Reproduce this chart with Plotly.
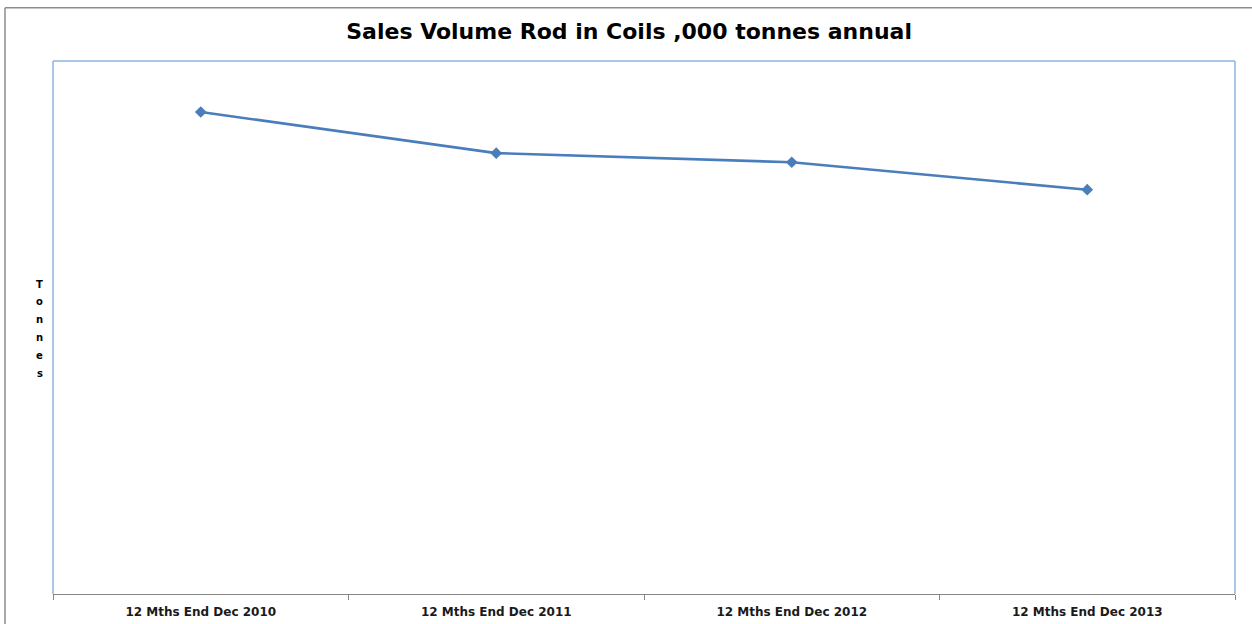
import plotly.graph_objects as go

categories = ["12 Mths End Dec 2010", "12 Mths End Dec 2011", "12 Mths End Dec 2012", "12 Mths End Dec 2013"]
sales_volume = [633, 579, 567, 531]
y_range = [0, 700]

title_text = "Sales Volume Rod in Coils ,000 tonnes annual"
y_title = "Tonnes"

fig = go.Figure()
fig.add_trace(go.Scatter(
    x=categories, y=sales_volume, mode="lines+markers",
    line=dict(color="#4A7EBB", width=2.6),
    marker=dict(symbol="diamond", size=9, color="#4A7EBB"),
    showlegend=False,
))

blue = "#8EB4E3"
for x0, y0, x1, y1 in [(0, 0, 0, 1), (0, 1, 1, 1), (1, 0, 1, 1)]:
    fig.add_shape(type="line", xref="paper", yref="paper", x0=x0, y0=y0, x1=x1, y1=y1,
                  line=dict(color=blue, width=1.5), layer="above")
fig.add_shape(type="line", xref="paper", yref="paper", x0=-0.0406, y0=1.1, x1=1.02, y1=1.1,
              line=dict(color="#8C8C8C", width=1.5))
fig.add_shape(type="line", xref="paper", yref="paper", x0=-0.0406, y0=-0.06, x1=-0.0406, y1=1.1,
              line=dict(color="#8C8C8C", width=1.5))

plot_h = 533.0
for i, ch in enumerate(y_title):
    fig.add_annotation(
        text="<b>" + ch + "</b>", xref="paper", yref="paper",
        x=-0.0110, y=(594 - 284 - i * 17.8) / plot_h, xanchor="center", yanchor="middle",
        showarrow=False, font=dict(family="DejaVu Sans", size=10, color="#000000"),
    )

fig.update_layout(
    width=1252, height=624,
    margin=dict(l=53, r=17, t=61, b=30),
    paper_bgcolor="white", plot_bgcolor="white",
    title=dict(text="<b>" + title_text + "</b>", x=0.5025, xanchor="center", y=0.95, yanchor="middle",
               font=dict(family="DejaVu Sans", size=22, color="#000000")),
    xaxis=dict(
        type="category", range=[-0.5, 3.5], tickson="boundaries", automargin=False,
        ticks="outside", ticklen=5, tickcolor="#868686", tickwidth=1,
        ticklabelstandoff=7,
        showline=True, linecolor="#868686", linewidth=1,
        showgrid=False, zeroline=False,
        tickfont=dict(family="DejaVu Sans", size=12, color="#1A1A1A", weight="bold"),
    ),
    yaxis=dict(range=y_range, showticklabels=False, showgrid=False, zeroline=False,
               ticks="", showline=False, automargin=False),
)

fig.write_html("out.html")
